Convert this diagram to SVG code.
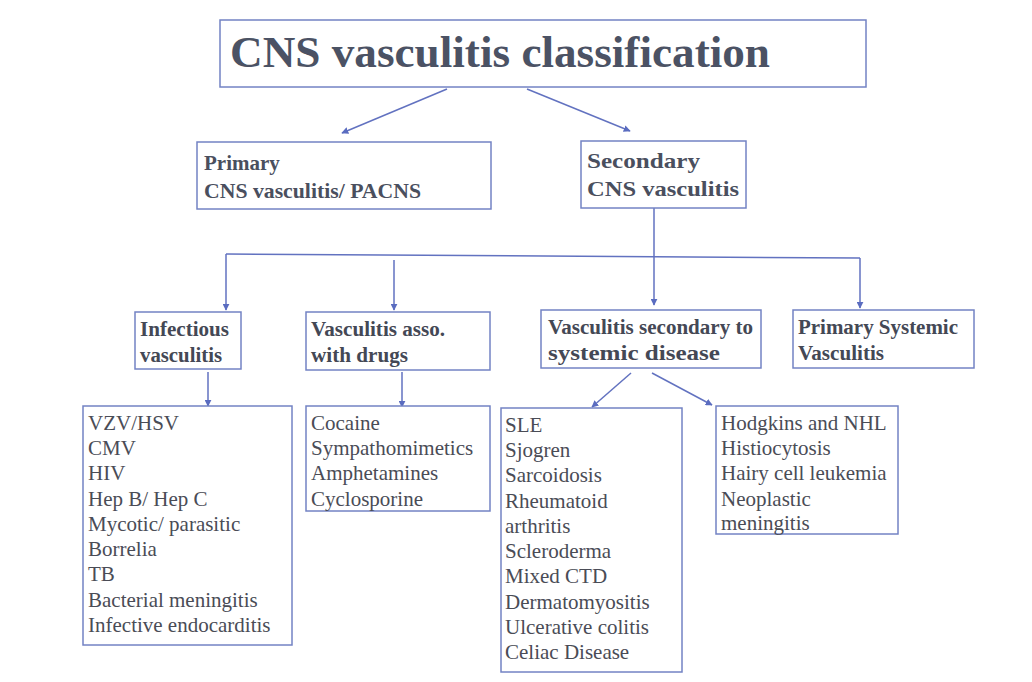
<svg xmlns="http://www.w3.org/2000/svg" width="1032" height="682" viewBox="0 0 1032 682">
<defs>
<style>
.box{fill:#ffffff;stroke:#7383c4;stroke-width:1.5}
.t{font-family:"Liberation Serif",serif;fill:#474b58}
.title{font-size:44px;font-weight:bold;fill:#4b5264}
.h2{font-size:21px;font-weight:bold;fill:#4a4f5e}
.h3{font-size:20px;font-weight:bold;fill:#444855}
.li{font-size:21px;fill:#4a4c56}
.c{stroke:#6272c0;stroke-width:1.5;fill:none}
</style>
<marker id="ah" viewBox="0 0 10 10" refX="9" refY="5" markerWidth="7" markerHeight="7" orient="auto" markerUnits="userSpaceOnUse">
<path d="M0,0 L10,5 L0,10 z" fill="#5a6cc0"/>
</marker>
</defs>
<rect width="1032" height="682" fill="#ffffff"/>

<g id="connectors">
<line class="c" x1="447" y1="89" x2="342" y2="133" marker-end="url(#ah)"/>
<line class="c" x1="527" y1="89" x2="630" y2="131" marker-end="url(#ah)"/>
<line class="c" x1="654" y1="208" x2="654" y2="256"/>
<line class="c" x1="226" y1="254" x2="860" y2="258"/>
<line class="c" x1="226" y1="254" x2="226" y2="310" marker-end="url(#ah)"/>
<line class="c" x1="394" y1="260" x2="394" y2="310" marker-end="url(#ah)"/>
<line class="c" x1="654" y1="256" x2="654" y2="305" marker-end="url(#ah)"/>
<line class="c" x1="860" y1="258" x2="860" y2="308" marker-end="url(#ah)"/>
<line class="c" x1="208" y1="372" x2="208" y2="406" marker-end="url(#ah)"/>
<line class="c" x1="402" y1="372" x2="402" y2="407" marker-end="url(#ah)"/>
<line class="c" x1="631" y1="373" x2="592" y2="407" marker-end="url(#ah)"/>
<line class="c" x1="652" y1="373" x2="712" y2="405" marker-end="url(#ah)"/>
</g>

<g id="title">
<rect class="box" x="220" y="20" width="646" height="67"/>
<text class="t title" x="230" y="67" textLength="540" lengthAdjust="spacingAndGlyphs">CNS vasculitis classification</text>
</g>

<g id="primary">
<rect class="box" x="197" y="142" width="294" height="67"/>
<text class="t h2" x="204" y="170">Primary</text>
<text class="t h2" x="204" y="198" textLength="217" lengthAdjust="spacingAndGlyphs">CNS vasculitis/ PACNS</text>
</g>

<g id="secondary">
<rect class="box" x="581" y="141" width="165" height="67"/>
<text class="t h2" x="587" y="168" textLength="113" lengthAdjust="spacingAndGlyphs">Secondary</text>
<text class="t h2" x="587" y="196" textLength="152" lengthAdjust="spacingAndGlyphs">CNS vasculitis</text>
</g>

<g id="infectious">
<rect class="box" x="135" y="312" width="106" height="57"/>
<text class="t h3" x="140" y="336" textLength="89" lengthAdjust="spacingAndGlyphs">Infectious</text>
<text class="t h3" x="140" y="362" textLength="82" lengthAdjust="spacingAndGlyphs">vasculitis</text>
</g>

<g id="drugs">
<rect class="box" x="306" y="312" width="184" height="58"/>
<text class="t h3" x="311" y="336" textLength="134" lengthAdjust="spacingAndGlyphs">Vasculitis asso.</text>
<text class="t h3" x="311" y="362" textLength="97" lengthAdjust="spacingAndGlyphs">with drugs</text>
</g>

<g id="systemic-disease">
<rect class="box" x="541" y="310" width="220" height="58"/>
<text class="t h3" x="548" y="334" textLength="205" lengthAdjust="spacingAndGlyphs">Vasculitis secondary to</text>
<text class="t h3" x="548" y="360" textLength="172" lengthAdjust="spacingAndGlyphs">systemic disease</text>
</g>

<g id="primary-systemic">
<rect class="box" x="793" y="310" width="181" height="58"/>
<text class="t h3" x="798" y="334" textLength="160" lengthAdjust="spacingAndGlyphs">Primary Systemic</text>
<text class="t h3" x="798" y="360" textLength="86" lengthAdjust="spacingAndGlyphs">Vasculitis</text>
</g>

<g id="infectious-list">
<rect class="box" x="83" y="406" width="209" height="239"/>
<text class="t li" x="88" y="430">VZV/HSV</text>
<text class="t li" x="88" y="455">CMV</text>
<text class="t li" x="88" y="480">HIV</text>
<text class="t li" x="88" y="506">Hep B/ Hep C</text>
<text class="t li" x="88" y="531">Mycotic/ parasitic</text>
<text class="t li" x="88" y="556">Borrelia</text>
<text class="t li" x="88" y="581">TB</text>
<text class="t li" x="88" y="607">Bacterial meningitis</text>
<text class="t li" x="88" y="632">Infective endocarditis</text>
</g>

<g id="drugs-list">
<rect class="box" x="306" y="406" width="184" height="105"/>
<text class="t li" x="311" y="430">Cocaine</text>
<text class="t li" x="311" y="455">Sympathomimetics</text>
<text class="t li" x="311" y="480">Amphetamines</text>
<text class="t li" x="311" y="506">Cyclosporine</text>
</g>

<g id="systemic-list">
<rect class="box" x="501" y="408" width="181" height="264"/>
<text class="t li" x="505" y="432">SLE</text>
<text class="t li" x="505" y="457">Sjogren</text>
<text class="t li" x="505" y="482">Sarcoidosis</text>
<text class="t li" x="505" y="508">Rheumatoid</text>
<text class="t li" x="505" y="533">arthritis</text>
<text class="t li" x="505" y="558">Scleroderma</text>
<text class="t li" x="505" y="583">Mixed CTD</text>
<text class="t li" x="505" y="609">Dermatomyositis</text>
<text class="t li" x="505" y="634">Ulcerative colitis</text>
<text class="t li" x="505" y="659">Celiac Disease</text>
</g>

<g id="neoplastic-list">
<rect class="box" x="716" y="406" width="182" height="128"/>
<text class="t li" x="721" y="430">Hodgkins and NHL</text>
<text class="t li" x="721" y="455">Histiocytosis</text>
<text class="t li" x="721" y="480">Hairy cell leukemia</text>
<text class="t li" x="721" y="506">Neoplastic</text>
<text class="t li" x="721" y="530">meningitis</text>
</g>
</svg>
